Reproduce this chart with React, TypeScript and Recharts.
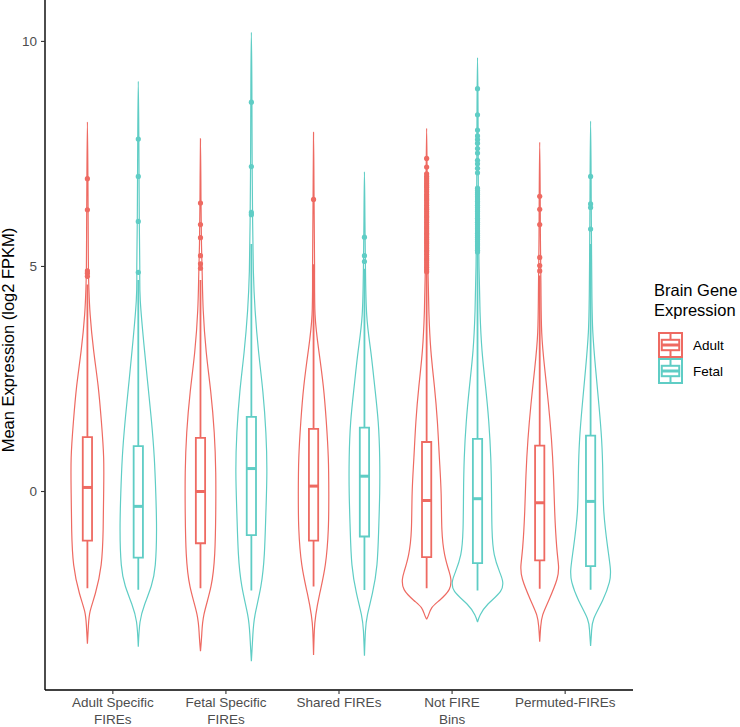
import React from 'react';
import { ComposedChart, Scatter, XAxis, YAxis } from 'recharts';

// categories on the x axis, each split into two lines for the tick label
const categories = ['Adult Specific FIREs', 'Fetal Specific FIREs', 'Shared FIREs', 'Not FIRE Bins', 'Permuted-FIREs'];
const tickLines = [['Adult Specific', 'FIREs'], ['Fetal Specific', 'FIREs'], ['Shared FIREs'], ['Not FIRE', 'Bins'], ['Permuted-FIREs']];
const groups = ['Adult', 'Fetal'];

// boxplot stats per category
const adultQ1 = [-1.09, -1.15, -1.09, -1.46, -1.53];
const adultMedian = [0.09, 0.0, 0.12, -0.2, -0.25];
const adultQ3 = [1.21, 1.19, 1.39, 1.1, 1.02];
const adultLow = [-2.15, -2.15, -2.11, -2.15, -2.16];
const adultHigh = [4.6, 4.7, 5.05, 4.85, 4.8];

const fetalQ1 = [-1.47, -0.97, -1.0, -1.59, -1.66];
const fetalMedian = [-0.33, 0.51, 0.34, -0.16, -0.22];
const fetalQ3 = [1.01, 1.66, 1.42, 1.17, 1.24];
const fetalLow = [-2.18, -2.2, -2.19, -2.2, -2.18];
const fetalHigh = [4.7, 5.5, 4.95, 5.3, 5.5];

const adultOutliers = [
  [6.95, 6.26, 4.9, 4.85, 4.78],
  [6.41, 5.93, 5.64, 5.24, 5.06, 4.96],
  [6.49],
  [7.4, 7.21, 7.06, 7.0, 6.95, 6.9, 6.85, 6.8, 6.76, 6.71, 6.66, 6.6, 6.55, 6.5, 6.46, 6.41, 6.36, 6.31, 6.27, 6.22,
    6.17, 6.12, 6.08, 6.03, 5.98, 5.93, 5.88, 5.84, 5.79, 5.74, 5.7, 5.65, 5.6, 5.55, 5.51, 5.46, 5.41, 5.36, 5.32,
    5.27, 5.22, 5.17, 5.13, 5.08, 5.03, 4.98, 4.93, 4.88],
  [6.56, 6.27, 5.93, 5.2, 5.02, 4.9],
];

const fetalOutliers = [
  [7.83, 7.0, 6.0, 4.87],
  [8.65, 7.22, 6.2, 6.15],
  [5.65, 5.24, 5.11],
  [8.95, 8.37, 8.03, 7.9, 7.82, 7.74, 7.62, 7.52, 7.36, 7.28, 7.18, 7.08, 6.74, 6.69, 6.64, 6.6, 6.55, 6.5, 6.45,
    6.41, 6.36, 6.31, 6.26, 6.22, 6.17, 6.12, 6.07, 6.03, 5.98, 5.93, 5.88, 5.84, 5.79, 5.74, 5.69, 5.65, 5.6, 5.55,
    5.5, 5.46, 5.41, 5.36, 5.32],
  [7.0, 6.39, 6.31, 5.83],
];

// violin profiles: [value, relative density], listed from top tip to bottom tip
type Profile = Array<[number, number]>;

const adultViolins: Profile[] = [
  [[8.21, 0], [7.0, 0.02], [6.0, 0.03], [5.0, 0.04], [4.5, 0.06], [3.93, 0.11], [3.13, 0.25], [2.34, 0.43], [1.55, 0.56],
    [0.75, 0.65], [-0.04, 0.65], [-0.84, 0.63], [-1.63, 0.55], [-2.26, 0.32], [-2.66, 0.11], [-2.98, 0.04], [-3.38, 0]],
  [[7.84, 0], [6.5, 0.02], [5.5, 0.04], [4.8, 0.07], [4.02, 0.11], [3.1, 0.23], [2.22, 0.41], [1.31, 0.55], [0.42, 0.61],
    [-0.49, 0.61], [-1.38, 0.57], [-2.11, 0.42], [-2.73, 0.14], [-3.18, 0.05], [-3.55, 0]],
  [[7.98, 0], [6.5, 0.02], [5.0, 0.04], [3.93, 0.06], [3.13, 0.21], [2.34, 0.39], [1.55, 0.51], [0.75, 0.59],
    [-0.04, 0.61], [-0.84, 0.59], [-1.63, 0.47], [-2.26, 0.25], [-2.74, 0.09], [-3.1, 0.03], [-3.63, 0]],
  [[8.07, 0], [7.0, 0.02], [6.0, 0.03], [5.0, 0.05], [4.0, 0.09], [3.13, 0.17], [2.34, 0.31], [1.55, 0.43], [0.75, 0.51],
    [-0.04, 0.58], [-0.84, 0.61], [-1.4, 0.72], [-1.78, 0.9], [-1.95, 0.97], [-2.18, 0.9], [-2.42, 0.51], [-2.58, 0.21],
    [-2.74, 0.08], [-2.84, 0]],
  [[7.76, 0], [6.5, 0.02], [5.5, 0.03], [4.5, 0.05], [3.53, 0.08], [2.73, 0.2], [1.94, 0.35], [1.16, 0.47], [0.36, 0.55],
    [-0.45, 0.6], [-1.23, 0.68], [-1.63, 0.75], [-1.95, 0.69], [-2.42, 0.36], [-2.74, 0.12], [-3.0, 0.04], [-3.34, 0]],
];

const fetalViolins: Profile[] = [
  [[9.11, 0], [8.0, 0.02], [7.0, 0.03], [6.0, 0.04], [5.0, 0.06], [4.24, 0.08], [3.13, 0.25], [2.34, 0.39], [1.55, 0.53],
    [0.75, 0.64], [-0.04, 0.7], [-0.84, 0.73], [-1.63, 0.68], [-2.1, 0.52], [-2.5, 0.26], [-2.9, 0.07], [-3.45, 0]],
  [[10.2, 0], [9.0, 0.02], [7.5, 0.03], [6.0, 0.05], [4.9, 0.08], [4.02, 0.15], [3.1, 0.29], [2.22, 0.46], [1.31, 0.58],
    [0.42, 0.62], [-0.49, 0.58], [-1.38, 0.52], [-2.11, 0.38], [-2.73, 0.15], [-3.18, 0.06], [-3.77, 0]],
  [[7.1, 0], [6.0, 0.02], [5.0, 0.04], [3.93, 0.09], [3.13, 0.25], [2.34, 0.41], [1.55, 0.55], [0.75, 0.61],
    [-0.04, 0.61], [-0.84, 0.57], [-1.63, 0.5], [-2.26, 0.32], [-2.74, 0.12], [-3.1, 0.04], [-3.65, 0]],
  [[9.64, 0], [8.5, 0.02], [7.0, 0.03], [6.0, 0.04], [5.0, 0.06], [4.0, 0.1], [3.13, 0.18], [2.34, 0.32], [1.55, 0.45],
    [0.75, 0.53], [-0.04, 0.56], [-0.84, 0.58], [-1.4, 0.67], [-1.78, 0.88], [-1.98, 1.0], [-2.22, 0.92], [-2.5, 0.42],
    [-2.74, 0.11], [-2.9, 0]],
  [[8.23, 0], [7.0, 0.02], [6.0, 0.03], [4.5, 0.05], [3.53, 0.09], [2.73, 0.2], [1.94, 0.33], [1.16, 0.44], [0.36, 0.49],
    [-0.45, 0.53], [-1.23, 0.68], [-1.71, 0.79], [-2.02, 0.75], [-2.42, 0.48], [-2.82, 0.13], [-3.1, 0.04], [-3.43, 0]],
];

const yTicks = [0, 5, 10];

const COLORS = ['#EE6A62', '#5FCDC5'];
const DODGE = 0.225;
const VIOLIN_HALF = 0.221;
const BOX_HALF = 0.041;
const FONT = '"Liberation Sans", Arial, Helvetica, sans-serif';

type Pt = { x: number; y: number };

function violinPoints(profile: Profile, cx: number): Pt[] {
  const right = [...profile].reverse().map(([v, d]) => ({ x: cx + d * VIOLIN_HALF, y: v }));
  const left = profile.slice(1).map(([v, d]) => ({ x: cx - d * VIOLIN_HALF, y: v }));
  return [...right, ...left];
}

function boxPoints(lo: number, q1: number, q3: number, hi: number, cx: number): Pt[] {
  const l = cx - BOX_HALF;
  const r = cx + BOX_HALF;
  return [
    { x: cx, y: lo }, { x: cx, y: q1 }, { x: l, y: q1 }, { x: l, y: q3 }, { x: cx, y: q3 }, { x: cx, y: hi },
    { x: cx, y: q3 }, { x: r, y: q3 }, { x: r, y: q1 }, { x: cx, y: q1 },
  ];
}

const groupStats = [
  { q1: adultQ1, med: adultMedian, q3: adultQ3, lo: adultLow, hi: adultHigh, out: adultOutliers, violins: adultViolins },
  { q1: fetalQ1, med: fetalMedian, q3: fetalQ3, lo: fetalLow, hi: fetalHigh, out: fetalOutliers, violins: fetalViolins },
];

const noShape = () => <g />;
const dotShape = (props: any) => <circle cx={props.cx} cy={props.cy} r={2.6} fill={props.fill} />;

const CategoryTick = (props: any) => {
  const { x, y, payload } = props;
  const lines = tickLines[Math.round(payload.value) - 1] || [];
  return (
    <text x={x} y={y} textAnchor="middle" fill="#4D4D4D" fontSize={13.5} fontFamily={FONT}>
      {lines.map((line, i) => (
        <tspan key={i} x={x} dy={i === 0 ? 11 : 17}>{line}</tspan>
      ))}
    </text>
  );
};

function LegendKey({ x, y, color }: { x: number; y: number; color: string }) {
  const w = 25;
  const h = 26;
  return (
    <g stroke={color} strokeWidth={2} fill="none">
      <rect x={x + 1} y={y + 1} width={w - 2} height={h - 2} />
      <rect x={x + w * 0.15} y={y + h * 0.3} width={w * 0.7} height={h * 0.4} />
      <line x1={x + w * 0.15} x2={x + w * 0.85} y1={y + h / 2} y2={y + h / 2} strokeWidth={3} />
      <line x1={x + w / 2} x2={x + w / 2} y1={y + 1} y2={y + h * 0.3} />
      <line x1={x + w / 2} x2={x + w / 2} y1={y + h * 0.7} y2={y + h - 1} />
    </g>
  );
}

export default function App() {
  const violinSeries: React.ReactNode[] = [];
  const boxSeries: React.ReactNode[] = [];

  groupStats.forEach((g, gi) => {
    const color = COLORS[gi];
    categories.forEach((_, ci) => {
      const cx = ci + 1 + (gi === 0 ? -DODGE : DODGE);
      violinSeries.push(
        <Scatter
          key={`v-${gi}-${ci}`}
          data={violinPoints(g.violins[ci], cx)}
          fill={color}
          line={{ stroke: color, strokeWidth: 1.2 }}
          lineType="joint"
          lineJointType="natural"
          shape={noShape}
          isAnimationActive={false}
        />
      );
      boxSeries.push(
        <Scatter
          key={`b-${gi}-${ci}`}
          data={boxPoints(g.lo[ci], g.q1[ci], g.q3[ci], g.hi[ci], cx)}
          fill={color}
          line={{ stroke: color, strokeWidth: 1.8 }}
          lineType="joint"
          shape={noShape}
          isAnimationActive={false}
        />,
        <Scatter
          key={`m-${gi}-${ci}`}
          data={[{ x: cx - BOX_HALF, y: g.med[ci] }, { x: cx + BOX_HALF, y: g.med[ci] }]}
          fill={color}
          line={{ stroke: color, strokeWidth: 3 }}
          lineType="joint"
          shape={noShape}
          isAnimationActive={false}
        />,
        <Scatter
          key={`o-${gi}-${ci}`}
          data={g.out[ci].map((v) => ({ x: cx, y: v }))}
          fill={color}
          shape={dotShape}
          isAnimationActive={false}
        />
      );
    });
  });

  return (
    <div style={{ position: 'absolute', left: 0, top: 0, width: 740, height: 727, background: '#fff' }}>
      <ComposedChart width={740} height={727} margin={{ top: 0, right: 107, bottom: 0, left: 0 }}>
        <XAxis
          type="number"
          dataKey="x"
          domain={[0.4, 5.6]}
          allowDataOverflow
          ticks={[1, 2, 3, 4, 5]}
          tick={<CategoryTick />}
          height={37}
          axisLine={{ stroke: '#000', strokeWidth: 1.4 }}
          tickLine={{ stroke: '#333', strokeWidth: 1.1 }}
          tickSize={4}
          tickMargin={2}
          interval={0}
        />
        <YAxis
          type="number"
          dataKey="y"
          domain={[-4.41, 10.92]}
          allowDataOverflow
          ticks={yTicks}
          width={45}
          axisLine={{ stroke: '#000', strokeWidth: 1.4 }}
          tickLine={{ stroke: '#333', strokeWidth: 1.1 }}
          tickSize={4}
          tickMargin={4}
          tick={{ fill: '#4D4D4D', fontSize: 13.5, fontFamily: FONT }}
        />
        {violinSeries}
        {boxSeries}
      </ComposedChart>
      <svg width={740} height={727} style={{ position: 'absolute', left: 0, top: 0, pointerEvents: 'none' }}>
        <text
          x={14}
          y={340}
          transform="rotate(-90 14 340)"
          textAnchor="middle"
          fontSize={16.5}
          fontFamily={FONT}
          fill="#000"
        >
          Mean Expression (log2 FPKM)
        </text>
        <text x={654} y={296} fontSize={16.5} fontFamily={FONT} fill="#000">Brain Gene</text>
        <text x={654} y={316} fontSize={16.5} fontFamily={FONT} fill="#000">Expression</text>
        {groups.map((name, i) => (
          <g key={name}>
            <LegendKey x={658} y={332 + i * 26} color={COLORS[i]} />
            <text x={693} y={350 + i * 26} fontSize={13.5} fontFamily={FONT} fill="#000">{name}</text>
          </g>
        ))}
      </svg>
    </div>
  );
}
